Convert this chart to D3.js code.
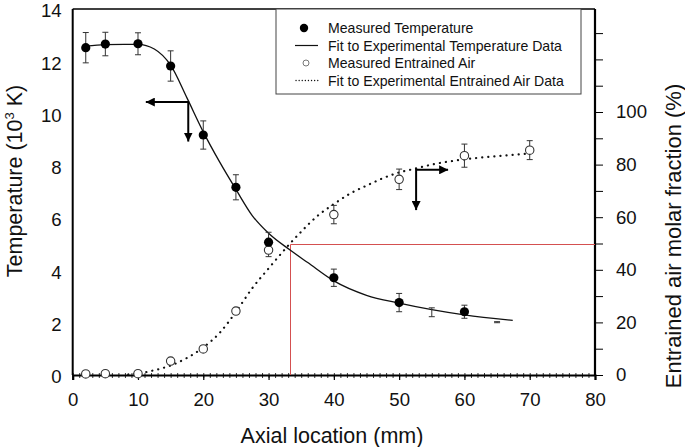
<!DOCTYPE html>
<html><head><meta charset="utf-8">
<script src="https://cdn.jsdelivr.net/npm/d3@7"></script>
<style>
body{margin:0;background:#fff;}
svg{display:block;font-family:"Liberation Sans",Arial,sans-serif;}
</style></head>
<body><svg id="c" width="685" height="447"></svg>
<script>
// ---- data ----
const xTicks = [0,10,20,30,40,50,60,70,80];
const leftTicks = [0,2,4,6,8,10,12,14];
const rightTicks = [0,20,40,60,80,100];
const rightMinor = [10,30,50,70,90,110,120,130];

const tempX   = [2,5,10,15,20,25,30,40,50,60];
const tempY   = [12.52,12.66,12.67,11.82,9.18,7.18,5.08,3.72,2.77,2.42];
const tempErr = [0.58,0.45,0.42,0.58,0.54,0.48,0.38,0.33,0.35,0.25];
const tempBarX = [55,65];
const tempBarY = [2.40,2.02];
const tempBarErr = [0.17,0.02];

const tempFitX = [2,5,10,12.5,15,17.5,20,22.5,25,27.5,30,33.3,36,40,45,50,55,60,67.4];
const tempFitY = [12.58,12.64,12.65,12.47,11.85,10.6,9.3,8.15,7.1,6.1,5.42,4.78,4.3,3.6,3.05,2.75,2.5,2.3,2.09];

const airX   = [2,5,10,15,20,25,30,40,50,60,70];
const airY   = [0.4,0.5,0.5,5.3,9.9,24.3,47.5,61,74.4,83.4,85.5];
const airErr = [0,0,0,0,0,0,2.5,3.5,3.9,4.4,3.6];

const airFitX = [8.5,10,12.5,15,17.5,20,22.5,25,27.5,30,33.3,35,37.5,40,42.5,45,47.5,50,52.5,55,60,65,70];
const airFitY = [0.2,0.6,1.8,3.6,6.5,10.5,16,24,33,40.5,50,54.5,60.5,65,69,72,74.8,77,78.5,80,82,83.2,84.2];

// annotation arrows (data units)
const arrowTemp = {x:17.7, y:10.44, tipX:11.2, tipY:8.93};
const arrowAir  = {x:52.6, y:78, tipX:57.5, tipY:62.7};
const refAir = {x:33.3, y:50};

const legendItems = ["Measured Temperature","Fit to Experimental Temperature Data","Measured Entrained Air","Fit to Experimental Entrained Air Data"];

// ---- layout ----
const svg = d3.select("#c");
const L=72.7, R=595, T=9, B=375;
const x = d3.scaleLinear().domain([0,80]).range([L,R]);
const yT = d3.scaleLinear().domain([0,14]).range([B,T]);
const yA = d3.scaleLinear().domain([0,100]).range([B,112]);
const TICKFS = 18.6, TITLEFS = 21.5;

const defs = svg.append("defs");
defs.append("marker").attr("id","ah").attr("viewBox","0 0 10 10").attr("refX",10).attr("refY",5)
  .attr("markerWidth",4.5).attr("markerHeight",4.5).attr("orient","auto").attr("markerUnits","strokeWidth")
  .append("path").attr("d","M0,0L10,5L0,10Z").attr("fill","#000");

// frame
svg.append("line").attr("x1",L).attr("x2",R).attr("y1",T).attr("y2",T).attr("stroke","#000").attr("stroke-width",1.5);
svg.append("line").attr("x1",L).attr("x2",L).attr("y1",T).attr("y2",B).attr("stroke","#000").attr("stroke-width",2);

// x axis
const xa = svg.append("g").attr("transform",`translate(0,${B})`);
xa.call(d3.axisBottom(x).tickValues(d3.range(0,81,1)).tickSize(3).tickFormat(""));
xa.selectAll(".tick line").attr("stroke","#000").attr("stroke-width",0.8).attr("y1",-2);
xa.select(".domain").remove();
const xm = svg.append("g").attr("transform",`translate(0,${B})`);
xm.call(d3.axisBottom(x).tickValues(xTicks).tickSize(5).tickPadding(13));
xm.select(".domain").attr("stroke","#000").attr("stroke-width",2.2);
xm.selectAll(".tick line").attr("stroke","#000").attr("stroke-width",1.2);
xm.selectAll(".tick text").attr("font-size",TICKFS).attr("fill","#111").attr("font-family","Liberation Sans, Arial, sans-serif");

// left axis
const la = svg.append("g").attr("transform",`translate(${L},0)`);
la.call(d3.axisLeft(yT).tickValues(leftTicks).tickSize(0).tickPadding(11));
la.select(".domain").remove();
la.selectAll(".tick text").attr("font-size",TICKFS).attr("fill","#111").attr("dy","0.42em").attr("font-family","Liberation Sans, Arial, sans-serif");

// right axis
const ra = svg.append("g").attr("transform",`translate(${R},0)`);
ra.call(d3.axisRight(yA).tickValues(rightTicks).tickSize(8).tickPadding(13));
ra.select(".domain").remove();
ra.selectAll(".tick line").attr("stroke","#000").attr("stroke-width",1);
ra.selectAll(".tick text").attr("font-size",TICKFS).attr("fill","#111").attr("font-family","Liberation Sans, Arial, sans-serif");
const rm = svg.append("g").attr("transform",`translate(${R},0)`);
rm.call(d3.axisRight(yA).tickValues(rightMinor).tickSize(8).tickFormat(""));
rm.select(".domain").remove();
rm.selectAll(".tick line").attr("stroke","#000").attr("stroke-width",1);
svg.append("line").attr("x1",R).attr("x2",R).attr("y1",T).attr("y2",B+1).attr("stroke","#000").attr("stroke-width",2.2);

// axis titles
svg.append("text").attr("x",332).attr("y",443).attr("text-anchor","middle").attr("font-size",TITLEFS).attr("fill","#111").text("Axial location (mm)");
const lt = svg.append("text").attr("transform","translate(22,181) rotate(-90)").attr("text-anchor","middle").attr("font-size",TITLEFS).attr("fill","#111");
lt.append("tspan").text("Temperature (10");
lt.append("tspan").attr("font-size",13).attr("dy",-8).text("3");
lt.append("tspan").attr("dy",8).text(" K)");
svg.append("text").attr("transform","translate(681,236) rotate(-90)").attr("text-anchor","middle").attr("font-size",TITLEFS+0.5).attr("fill","#111").text("Entrained air molar fraction (%)");

// red reference lines
const rx = Math.round(x(refAir.x))+0.5, ry = Math.round(yA(refAir.y))+0.5;
svg.append("path").attr("d",`M${rx},${B}V${ry}H${R}`).attr("fill","none").attr("stroke","#d45050").attr("stroke-width",1);

// fit lines
const tempFit = tempFitX.map((d,i)=>[d,tempFitY[i]]);
const airFit = airFitX.map((d,i)=>[d,airFitY[i]]);
svg.append("path").datum(tempFit).attr("fill","none").attr("stroke","#111").attr("stroke-width",1.3)
  .attr("d",d3.line().x(d=>x(d[0])).y(d=>yT(d[1])).curve(d3.curveMonotoneX));
svg.append("path").datum(airFit).attr("fill","none").attr("stroke","#111").attr("stroke-width",2.2)
  .attr("stroke-dasharray","0.1,6").attr("stroke-linecap","round")
  .attr("d",d3.line().x(d=>x(d[0])).y(d=>yA(d[1])).curve(d3.curveMonotoneX));

// error bars
function errBars(xs,ys,es,ys2){
  const g = svg.append("g").attr("stroke","#333").attr("stroke-width",1).attr("fill","none");
  xs.forEach((xv,i)=>{
    if(!es[i]) return;
    const cx=x(xv), y1=ys2(ys[i]+es[i]), y2=ys2(ys[i]-es[i]);
    g.append("line").attr("x1",cx).attr("x2",cx).attr("y1",y1).attr("y2",y2);
    g.append("line").attr("x1",cx-3).attr("x2",cx+3).attr("y1",y1).attr("y2",y1);
    g.append("line").attr("x1",cx-3).attr("x2",cx+3).attr("y1",y2).attr("y2",y2);
  });
}
errBars(airX,airY,airErr,yA);
errBars(tempX,tempY,tempErr,yT);
errBars(tempBarX,tempBarY,tempBarErr,yT);

// points
svg.append("g").selectAll("circle").data(airX).join("circle")
  .attr("cx",d=>x(d)).attr("cy",(d,i)=>yA(airY[i])).attr("r",4.2)
  .attr("fill","#fff").attr("stroke","#333").attr("stroke-width",1.1);
svg.append("g").selectAll("circle").data(tempX).join("circle")
  .attr("cx",d=>x(d)).attr("cy",(d,i)=>yT(tempY[i])).attr("r",4.6).attr("fill","#000");

// arrows
function arrow(a,ys){
  const cx=x(a.x), cy=ys(a.y);
  svg.append("line").attr("x1",cx).attr("y1",cy).attr("x2",x(a.tipX)).attr("y2",cy)
    .attr("stroke","#000").attr("stroke-width",2).attr("marker-end","url(#ah)");
  svg.append("line").attr("x1",cx).attr("y1",cy-1).attr("x2",cx).attr("y2",ys(a.tipY))
    .attr("stroke","#000").attr("stroke-width",2).attr("marker-end","url(#ah)");
}
arrow(arrowTemp,yT);
arrow(arrowAir,yA);

// legend
const lg = svg.append("g");
lg.append("rect").attr("x",276).attr("y",T).attr("width",305).attr("height",85)
  .attr("fill","#fff").attr("stroke","#444").attr("stroke-width",1);
const rowsY = [28,45.5,63,80.5];
lg.selectAll("text").data(legendItems).join("text")
  .attr("x",328).attr("y",(d,i)=>rowsY[i]+5).attr("font-size",14.1).attr("fill","#111").text(d=>d);
lg.append("circle").attr("cx",304).attr("cy",rowsY[0]).attr("r",4.2).attr("fill","#000");
lg.append("line").attr("x1",295).attr("x2",318).attr("y1",rowsY[1]).attr("y2",rowsY[1]).attr("stroke","#111").attr("stroke-width",1.2);
lg.append("circle").attr("cx",306).attr("cy",rowsY[2]).attr("r",3).attr("fill","#fff").attr("stroke","#777").attr("stroke-width",1);
lg.append("line").attr("x1",296).attr("x2",320).attr("y1",rowsY[3]).attr("y2",rowsY[3]).attr("stroke","#111").attr("stroke-width",1.3)
  .attr("stroke-dasharray","0.1,3").attr("stroke-linecap","round");
</script></body></html>
